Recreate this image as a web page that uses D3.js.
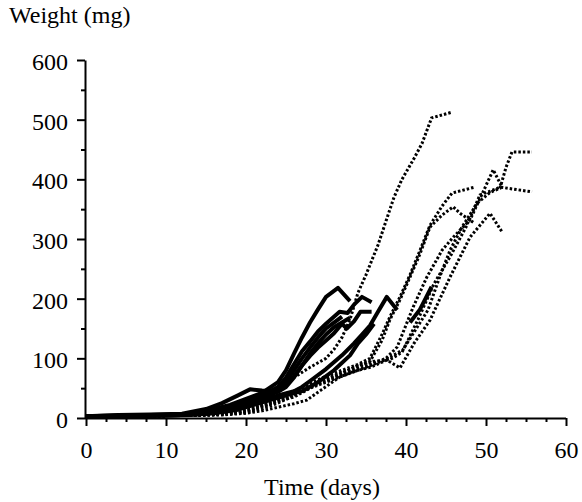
<!DOCTYPE html>
<html lang="en">
	<head>
		<meta charset="utf-8">
		<title>Weight vs time</title>
		<script type="text/javascript" src="https://d3js.org/d3.v7.min.js"></script>
		<style type="text/css">
			body { margin: 0; background: #fff; }
		</style>
	</head>
	<body>

		<script type="text/javascript">

// WIDTH AND HEIGHT
			var w = 582;
			var h = 502;
			var serif = "Liberation Serif";

// TICKS
			var xMajor = [0, 10, 20, 30, 40, 50, 60];
			var xMinor = [2.5, 5, 7.5, 12.5, 15, 17.5, 22.5, 25, 27.5, 32.5, 35, 37.5, 42.5, 45, 47.5, 52.5, 55, 57.5];
			var yMajor = [0, 100, 200, 300, 400, 500, 600];
			var yMinor = [50, 150, 250, 350, 450, 550];

// SOLID SERIES [day, mg]
			var solid1 = [[0,3],[4,4],[8,5],[12,6],[15,12],[18,22],[20,32],[22,42],[24,60],[25,80],[26,108],[27,135],[28,160],[29,182],[30,203],[31.5,218],[33,196]];
			var solid2 = [[0,2],[4,3],[8,4],[12,5],[15,10],[18,18],[20,28],[22,38],[24,52],[25,68],[26,90],[27,112],[28,128],[29,145],[30,158],[31.7,178],[32.7,176],[33.5,190],[34.5,203],[35.7,194]];
			var solid3 = [[0,2],[4,3],[8,4],[12,5],[15,8],[18,15],[20,24],[22,34],[24,44],[25,55],[26,70],[27,88],[28,104],[29,118],[30,130],[31,142],[32,158],[32.6,150],[33.5,162],[34.3,178],[35.7,178]];
			var solid4 = [[0,2],[4,3],[8,4],[12,5],[15,7],[18,12],[20,20],[22,30],[24,38],[26,45],[27,52],[28,62],[30,82],[32,105],[33.5,125],[34.5,140],[35.5,155],[36.5,178],[37.6,203],[38.9,181]];
			var solid5 = [[0,3],[4,5],[8,6],[12,7],[15,15],[17,25],[19,38],[20.5,48],[22,46],[24,44],[25,52],[26,68],[27,88],[28,108],[29,125],[30,140],[31,152],[32,160],[33,168]];
			var solid6 = [[0,2],[4,3],[8,4],[12,5],[15,9],[18,16],[20,26],[22,36],[24,46],[25,60],[26,80],[27,100],[28,118],[29,135],[30,150],[31,160],[32,170]];
			var solid7 = [[0,2],[5,3],[10,4],[13,5],[16,8],[19,14],[21,22],[23,30],[25,38],[27,45],[29,60],[31,80],[33,105],[34,125],[35,140],[36,158]];
			var solid8 = [[40.5,160],[41.75,182],[43.2,220]];

// DOTTED SERIES [day, mg]
			var dot1 = [[0,2],[5,3],[10,4],[14,6],[17,10],[20,20],[22,35],[24,50],[26,68],[28,85],[30,100],[31,115],[32,135],[33,165],[34,210],[35,240],[36.5,290],[37.5,330],[38.5,370],[39.5,400],[41,435],[42,460],[43.2,503],[45.6,512]];
			var dot2 = [[0,2],[5,3],[10,4],[14,5],[17,8],[20,15],[22,22],[24,32],[26,45],[28,58],[30,70],[32,80],[34,90],[35.5,100],[37,140],[38,170],[39.25,203],[40.5,240],[41.75,281],[43,323],[44.5,355],[45.75,377],[48.6,387]];
			var dot3 = [[0,2],[5,3],[10,4],[14,5],[17,7],[20,12],[22,20],[24,30],[26,42],[28,55],[30,66],[32,76],[34,86],[35.5,95],[37,130],[38,165],[39.25,198],[40.5,236],[41.75,275],[43,320],[44.5,340],[45.9,354],[46.75,343],[48.4,328]];
			var dot4 = [[0,2],[5,3],[10,4],[14,5],[17,6],[20,10],[22,18],[24,28],[26,40],[28,52],[30,62],[32,72],[34,82],[36,92],[37.5,100],[38.9,119],[40.9,186],[42.6,236],[44.5,281],[45.9,303],[48,332],[49.5,375],[50.9,416],[52,387]];
			var dot5 = [[0,2],[5,3],[10,4],[14,5],[17,6],[20,9],[22,15],[24,25],[26,38],[28,50],[30,60],[32,70],[34,80],[36,90],[37.5,98],[39.6,114],[42.75,181],[44.2,236],[45.5,281],[47,320],[48.9,360],[50.5,378],[51.75,385],[52.5,420],[53.25,446],[55.75,446]];
			var dot6 = [[0,2],[5,3],[10,4],[14,4],[17,5],[20,8],[22,12],[24,18],[26,24],[27.6,30],[29.5,48],[31.75,69],[33.5,78],[35.5,85],[37.6,97],[39.25,84],[41,125],[43,164],[45.5,236],[48,303],[50.5,343],[52,312]];
			var dot7 = [[0,2],[5,3],[10,4],[14,5],[17,7],[20,12],[22,20],[24,28],[26,35],[28,50],[30,65],[32,75],[34,88],[36,95],[38,98],[39.5,110],[41.5,165],[43.5,225],[45.5,270],[47.5,320],[49.25,374],[50.5,380],[51.75,387],[55.75,379]];

			var solidSeries = [solid1, solid2, solid3, solid4, solid5, solid6, solid7, solid8];
			var dotSeries = [dot1, dot2, dot3, dot4, dot5, dot6, dot7];

// SCALES
			var x = d3.scaleLinear()
						.domain([0, 60])
						.range([86, 566]);
			var y = d3.scaleLinear()
						.domain([0, 600])
						.range([418, 60]);

			var line = d3.line()
						.x(function(d) { return x(d[0]); })
						.y(function(d) { return y(d[1]); });

// CREATE THE MAIN SVG BODY
			var svg = d3.select("body")
						.append("svg")
						.attr("width", w)
						.attr("height", h);

// AXES
			var xAxis = svg.append("g")
						.attr("transform", "translate(0,418)")
						.call(d3.axisBottom(x).tickValues(xMajor).tickSize(8).tickSizeOuter(0).tickPadding(15).tickFormat(d3.format("d")));
			svg.append("g")
						.attr("transform", "translate(0,418)")
						.call(d3.axisBottom(x).tickValues(xMinor).tickSize(4).tickSizeOuter(0).tickFormat(""))
						.select(".domain").remove();

			var yAxis = svg.append("g")
						.attr("transform", "translate(85,0)")
						.call(d3.axisLeft(y).tickValues(yMajor).tickSize(8).tickSizeOuter(0).tickPadding(9).tickFormat(d3.format("d")));
			svg.append("g")
						.attr("transform", "translate(85,0)")
						.call(d3.axisLeft(y).tickValues(yMinor).tickSize(4).tickSizeOuter(0).tickFormat(""))
						.select(".domain").remove();

			xAxis.select(".domain").attr("d", "M85,0.5H566");
			svg.selectAll("g").attr("font-family", serif);
			svg.selectAll(".domain, .tick line")
						.attr("stroke", "black")
						.attr("stroke-width", 2);
			svg.selectAll(".tick text")
						.attr("font-family", serif)
						.attr("font-size", "24px")
						.attr("fill", "black");
			yAxis.selectAll(".tick text").attr("dy", "0.4em");

// LINES
			svg.append("g")
				.selectAll("path")
				.data(dotSeries)
				.enter()
				.append("path")
				.attr("d", line)
				.attr("fill", "none")
				.attr("stroke", "black")
				.attr("stroke-width", 3)
				.attr("stroke-dasharray", "2.5,2");

			svg.append("g")
				.selectAll("path")
				.data(solidSeries)
				.enter()
				.append("path")
				.attr("d", line)
				.attr("fill", "none")
				.attr("stroke", "black")
				.attr("stroke-width", 4)
				.attr("stroke-linejoin", "round");

// LABELS
			svg.append("text")
				.text("Weight (mg)")
				.attr("x", 9)
				.attr("y", 23)
				.attr("font-family", serif)
				.attr("font-size", "24px")
				.attr("fill", "black");

			svg.append("text")
				.text("Time (days)")
				.attr("x", 322)
				.attr("y", 495)
				.attr("text-anchor", "middle")
				.attr("font-family", serif)
				.attr("font-size", "24px")
				.attr("fill", "black");

		</script>
</body>
</html>
